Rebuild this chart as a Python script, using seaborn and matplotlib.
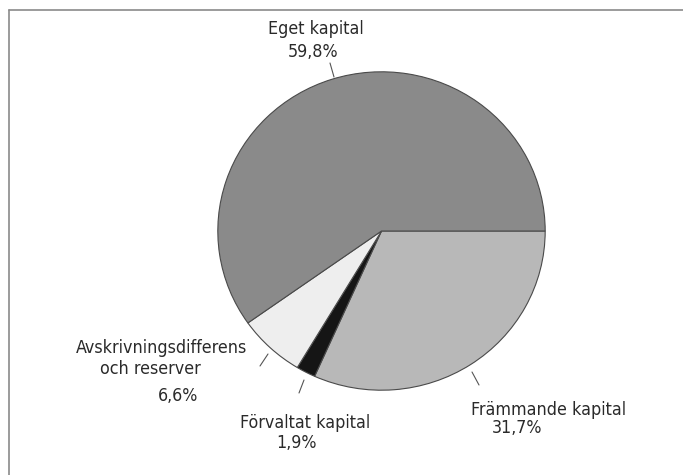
import matplotlib
matplotlib.use("Agg")
import matplotlib.pyplot as plt
import seaborn as sns

# Data (clockwise from 3 o'clock)
categories = ["Främmande kapital", "Förvaltat kapital", "Avskrivningsdifferens\noch reserver", "Eget kapital"]
values = [31.7, 1.9, 6.6, 59.8]
colors = ["#b8b8b8", "#151515", "#eeeeee", "#8a8a8a"]

sns.set_theme(style="white")
plt.rcParams["font.family"] = ["DejaVu Sans"]
plt.rcParams["font.stretch"] = "condensed"

W, H = 683, 475
fig = plt.figure(figsize=(W / 100, H / 100), dpi=100)
fig.patch.set_facecolor("white")

# overlay axes in pixel coordinates
ov = fig.add_axes([0, 0, 1, 1])
ov.set_xlim(0, W)
ov.set_ylim(H, 0)
ov.axis("off")

# pie axes placed over the pie region (pixels)
left, right, top, bottom = 217, 546, 71, 391
pax = fig.add_axes([left / W, (H - bottom) / H, (right - left) / W, (bottom - top) / H])
pax.pie(values, colors=colors, startangle=0, counterclock=False,
        wedgeprops=dict(edgecolor="#4a4a4a", linewidth=0.8))
pax.set_aspect("auto")
pax.set_xlim(-1.005, 1.005)
pax.set_ylim(-1.005, 1.005)
pax.axis("off")

def pct(v):
    return f"{v:.1f}".replace(".", ",") + "%"

txt = dict(color="#2a2a2a", fontsize=12.8, ha="center", va="center", fontstretch="condensed")
lc = dict(color="#555555", lw=0.8)

# Främmande kapital
ov.text(549, 410, categories[0], **txt)
ov.text(517, 428, pct(values[0]), **txt)
ov.plot([472, 479], [372, 385], **lc)

# Förvaltat kapital
ov.text(305, 423, categories[1], **txt)
ov.text(296, 443, pct(values[1]), **txt)
ov.plot([304, 299], [380, 393], **lc)

# Avskrivningsdifferens och reserver
l1, l2 = categories[2].split("\n")
ov.text(161, 348, l1, **txt)
ov.text(150, 369, l2, **txt)
ov.text(178, 396, pct(values[2]), **txt)
ov.plot([268, 260], [354, 366], **lc)

# Eget kapital
ov.text(316, 29, categories[3], **txt)
ov.text(313, 52, pct(values[3]), **txt)
ov.plot([330, 334], [63, 77], **lc)

# frame (top and left edges visible)
ov.plot([9, W], [10, 10], color="#8a8a8a", lw=1.2)
ov.plot([9, 9], [10, H], color="#8a8a8a", lw=1.2)

fig.savefig("out.png", dpi=100, facecolor="white")
